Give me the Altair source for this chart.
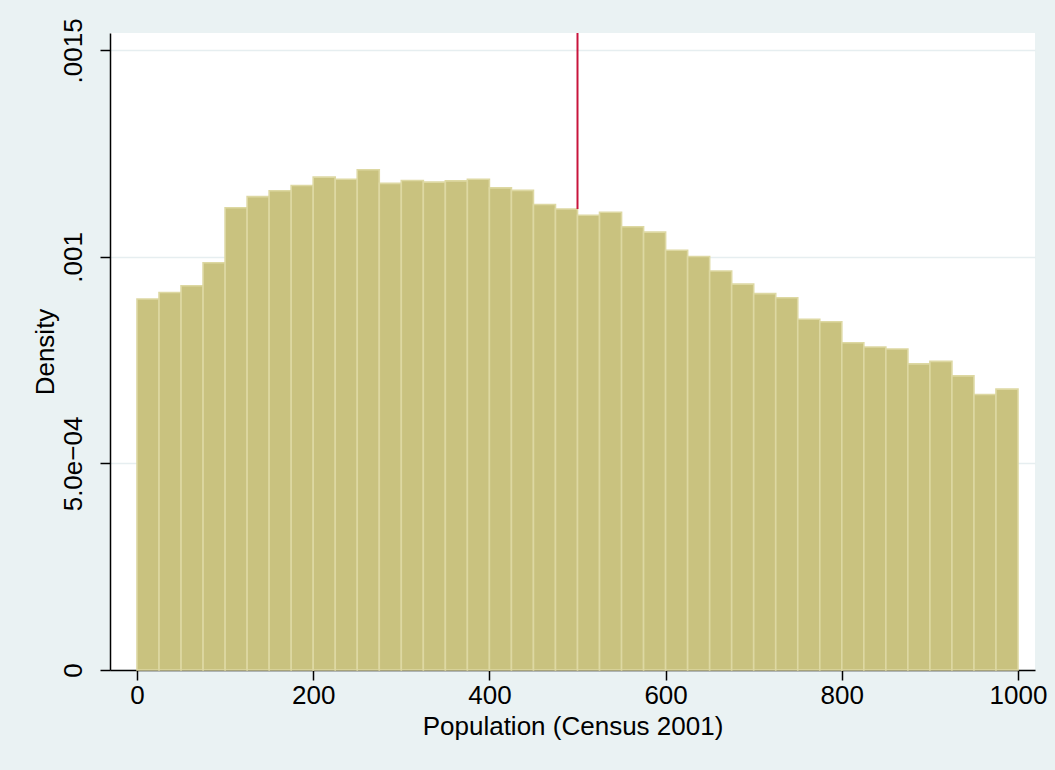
import altair as alt
import pandas as pd

# Histogram: 40 bins of width 25 from 0 to 1000 (Population, Census 2001)
bin_starts = [i * 25 for i in range(40)]
densities = [
    0.000898, 0.000914, 0.000930, 0.000986, 0.001119, 0.001146, 0.001160, 0.001173,
    0.001193, 0.001188, 0.001211, 0.001178, 0.001185, 0.001181, 0.001184, 0.001188,
    0.001167, 0.001161, 0.001127, 0.001116, 0.001101, 0.001108, 0.001073, 0.001060,
    0.001016, 0.001001, 0.000966, 0.000934, 0.000911, 0.000901, 0.000849, 0.000843,
    0.000792, 0.000782, 0.000777, 0.000741, 0.000747, 0.000712, 0.000667, 0.000680,
]
bin_width = 25

marker_x = [500]
marker_y = [0.001116]

x_ticks = [0, 200, 400, 600, 800, 1000]
y_ticks = [0, 0.0005, 0.001, 0.0015]

df = pd.DataFrame({
    "start": bin_starts,
    "end": [s + bin_width for s in bin_starts],
    "base": [0.0] * len(bin_starts),
    "density": densities,
})
marker = pd.DataFrame({"x": marker_x, "y": marker_y})

FONT = "Liberation Sans"
X_DOMAIN = [-30.65, 1019.3]
Y_DOMAIN = [0, 0.001542]

x_scale = alt.Scale(domain=X_DOMAIN, nice=False, zero=False)
y_scale = alt.Scale(domain=Y_DOMAIN, nice=False, zero=True)

bars = alt.Chart(df).mark_bar(
    color="#C9C27F", stroke="#DDD8A2", strokeWidth=1.6
).encode(
    x=alt.X("start:Q", scale=x_scale,
            axis=alt.Axis(values=x_ticks, title="Population (Census 2001)",
                          format="d", grid=False, labelPadding=2, titlePadding=5,
                          labelFlush=False, labelOverlap=False)),
    x2="end:Q",
    y=alt.Y("density:Q", scale=y_scale,
            axis=alt.Axis(values=y_ticks, title="Density", grid=True,
                          labelAngle=270, labelPadding=14,
                          titleX=-57, titleBaseline="alphabetic",
                          labelOverlap=False,
                          labelExpr="datum.value == 0 ? '0' : datum.value == 0.0005 ? '5.0e\u221204' : datum.value == 0.001 ? '.001' : '.0015'")),
    y2="base:Q",
)

rule = alt.Chart(marker).mark_rule(color="#C8143C", strokeWidth=2).encode(
    x=alt.X("x:Q", scale=x_scale),
    y=alt.Y("y:Q", scale=y_scale),
    y2=alt.value(0),
)

chart = alt.layer(bars, rule).properties(
    width=925,
    height=637,
    background="#EAF2F3",
    padding={"left": 110, "top": 33, "right": 20, "bottom": 100},
    autosize=alt.AutoSizeParams(type="none"),
).configure_view(
    fill="white", stroke=None
).configure_axis(
    labelFont=FONT, titleFont=FONT, labelFontSize=26, titleFontSize=26,
    labelColor="black", titleColor="black", titleFontWeight="normal",
    domainColor="black", domainWidth=1.5, tickColor="black", tickWidth=1.5,
    tickSize=10, gridColor="#E6EEF0", gridWidth=1.5,
)

chart.save("out.html", embed_options={"renderer": "svg", "actions": False})
